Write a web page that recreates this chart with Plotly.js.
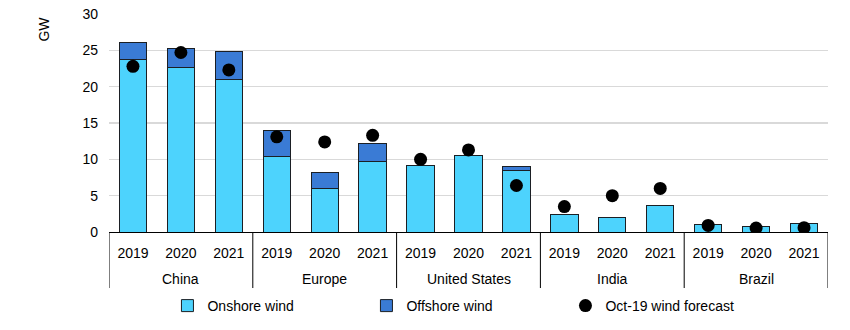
<!DOCTYPE html>
<html>
<head>
<meta charset="utf-8">
<script src="https://cdn.plot.ly/plotly-3.0.1.min.js"></script>
<style>html,body{margin:0;padding:0;background:#fff;}#chart{width:850px;height:330px;}</style>
</head>
<body>
<div id="chart"></div>
<script>
const countries = ['China', 'Europe', 'United States', 'India', 'Brazil'];
const years = ['2019', '2020', '2021'];
const onshore  = [23.8, 22.7, 21.0, 10.4, 6.0, 9.7, 9.1, 10.5, 8.5, 2.4, 2.0, 3.6, 1.05, 0.7, 1.2];
const offshore = [2.3, 2.5, 3.9, 3.5, 2.2, 2.5, 0, 0, 0.5, 0, 0, 0, 0, 0, 0];
const forecast = [22.8, 24.7, 22.3, 13.1, 12.4, 13.3, 10.0, 11.3, 6.4, 3.5, 5.0, 6.0, 0.9, 0.55, 0.6];
const seriesNames = ['Onshore wind', 'Offshore wind', 'Oct-19 wind forecast'];

// category keys built from countries x years; tick text shows the year
const xKeys = [];
const xYears = [];
countries.forEach(c => years.forEach(y => { xKeys.push(c + ' ' + y); xYears.push(y); }));

const FONT = 'Liberation Sans, Arial, sans-serif';
const outline = {color: '#1b1f24', width: 1};

const traces = [
  {type: 'bar', name: seriesNames[0], x: xKeys, y: onshore,
   marker: {color: '#4dd3fd', line: outline}},
  {type: 'bar', name: seriesNames[1], x: xKeys, y: offshore,
   marker: {color: '#3a7bd5', line: outline}},
  {type: 'scatter', mode: 'markers', name: seriesNames[2], x: xKeys, y: forecast,
   marker: {color: '#000000', size: 13}}
];

const nY = years.length;
const shapes = [];
for (let i = 0; i <= countries.length; i++) {
  shapes.push({type: 'line', xref: 'x', yref: 'paper', x0: i * nY - 0.5, x1: i * nY - 0.5,
               y0: 0, y1: -0.257, line: {color: '#000', width: 1}});
}
const annotations = countries.map((c, i) => ({
  text: c, xref: 'x', yref: 'paper', x: i * nY + (nY - 1) / 2, y: -0.2156,
  xanchor: 'center', yanchor: 'middle', showarrow: false,
  font: {family: FONT, size: 14, color: '#000'}
}));
annotations.push({text: 'GW', xref: 'paper', yref: 'paper', x: -0.09, y: 0.93,
                  xanchor: 'center', yanchor: 'middle', textangle: -90, showarrow: false,
                  font: {family: FONT, size: 14, color: '#000'}});

const layout = {
  width: 850, height: 330,
  margin: {l: 109, r: 22, t: 14, b: 98},
  paper_bgcolor: '#fff', plot_bgcolor: '#fff',
  font: {family: FONT, size: 14, color: '#000'},
  barmode: 'stack',
  bargap: 0.43,
  showlegend: true,
  legend: {orientation: 'h', xref: 'container', yref: 'container',
           x: 0.197, xanchor: 'left', y: 0.0727, yanchor: 'middle',
           traceorder: 'normal', entrywidth: 154, entrywidthmode: 'pixels',
           font: {family: FONT, size: 14, color: '#000'}, itemwidth: 30},
  xaxis: {type: 'category', showline: true, linecolor: '#000', linewidth: 1,
          ticks: '', tickmode: 'array', tickvals: xKeys, ticktext: xYears,
          ticklabelstandoff: 8, automargin: false, showgrid: false,
          tickfont: {family: FONT, size: 14, color: '#000'}, range: [-0.5, xKeys.length - 0.5]},
  yaxis: {range: [0, 30], dtick: 5, showgrid: true, gridcolor: '#d9d9d9', gridwidth: 1.3,
          zeroline: false, showline: false, ticks: '', ticklabelstandoff: 10,
          tickfont: {family: FONT, size: 14, color: '#000'}},
  shapes: shapes,
  annotations: annotations
};

Plotly.newPlot('chart', traces, layout, {displayModeBar: false, staticPlot: true});
</script>
</body>
</html>
